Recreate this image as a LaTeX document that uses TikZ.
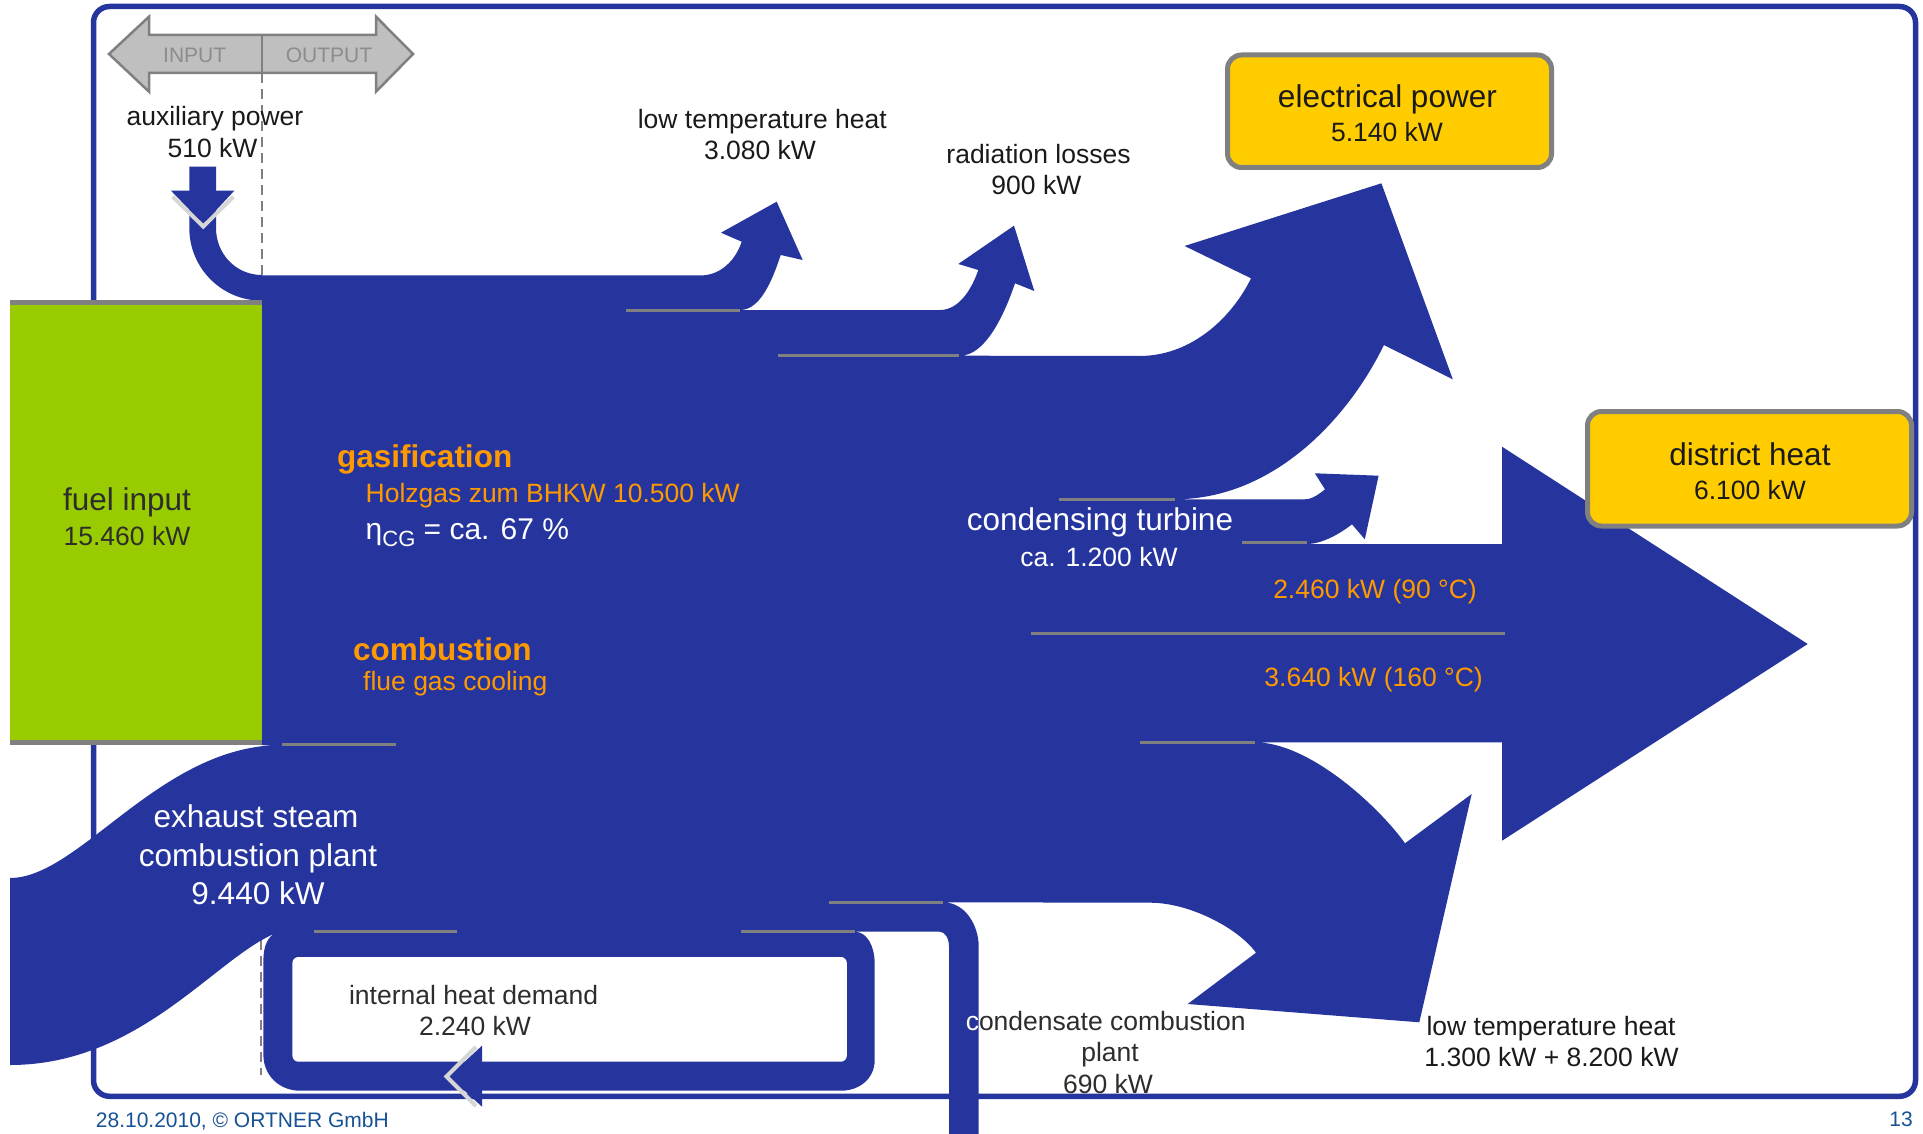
\documentclass[tikz,border=0pt]{standalone}
\usepackage{fontspec}
\setmainfont{Liberation Sans}
\definecolor{flowblue}{RGB}{38,53,158}
\definecolor{fuelgreen}{RGB}{153,204,0}
\definecolor{boxyellow}{RGB}{255,204,0}
\definecolor{sepgray}{RGB}{128,128,128}
\definecolor{iogray}{RGB}{191,191,191}
\definecolor{iotext}{RGB}{140,140,140}
\definecolor{orangetxt}{RGB}{255,153,0}
\definecolor{txt}{RGB}{26,26,26}
\definecolor{txtgray}{RGB}{45,45,45}
\definecolor{footblue}{RGB}{22,82,148}
\definecolor{chev}{RGB}{214,214,214}
\tikzset{
  flowfill/.style={fill=flowblue},
  sepline/.style={draw=sepgray, line width=3pt},
  lbl/.style={inner sep=0pt, anchor=base, text=txt, font=\fontsize{26.5}{30}\selectfont},
  biglbl/.style={lbl, font=\fontsize{31.5}{36}\selectfont},
  hdlbl/.style={lbl, anchor=base west, text=orangetxt, font=\fontsize{31.5}{36}\selectfont\bfseries},
  sublbl/.style={lbl, anchor=base west, text=orangetxt},
  outbox/.style={draw=sepgray, line width=5pt, fill=boxyellow, rounded corners=14pt},
  chevline/.style={draw=chev, line width=4pt},
  dashline/.style={draw=sepgray, line width=2.5pt, dash pattern=on 10pt off 6pt},
}
\begin{document}
\begin{tikzpicture}[x=1pt,y=-1pt]
\useasboundingbox (0,0) rectangle (1923,1134);
\fill[white] (0,0) rectangle (1923,1134);

% frame
\draw[draw=flowblue, line width=5.5pt, rounded corners=16pt] (93.5,6.5) rectangle (1915.5,1096.3);

% INPUT / OUTPUT arrow
\filldraw[fill=iogray, draw=sepgray, line width=2.5pt, line join=miter]
  (109,54) -- (149,16.7) -- (149,35) -- (376,35) -- (376,16.7) -- (413,54)
  -- (376,91.7) -- (376,73) -- (149,73) -- (149,91.7) -- cycle;
\draw[draw=sepgray, line width=2.5pt] (262,35) -- (262,73);
\node[lbl, text=iotext, font=\fontsize{21}{24}\selectfont] (tin) at (194.7,62.3) {INPUT};
\node[lbl, text=iotext, font=\fontsize{21}{24}\selectfont] (tout) at (329,62.3) {OUTPUT};

% dashed input/output border
\draw[dashline] (262,73) -- (262,275);
\draw[dashline] (261,940) -- (261,1075);

% main flow
\fill[flowfill] (262,275.5) -- (700,275.5)
  .. controls (722,275.5) and (736,258.8) .. (741.7,241.7)
  -- (721,232.7) -- (776.7,201.7) -- (802.7,260) -- (780.7,255)
  .. controls (771.9,281.6) and (760,310) .. (740,310)
  -- (940,310)
  .. controls (960,310) and (972.5,287) .. (978.3,270)
  -- (958.3,264) -- (1014,225.7) -- (1034.3,291) -- (1015,283.3)
  .. controls (1003.7,316.4) and (985,355.7) .. (960,355.7)
  -- (1139.3,356)
  .. controls (1194,356) and (1233.6,314.3) .. (1251,278.3)
  -- (1184.6,246) -- (1381.4,183.3) -- (1452.8,379.3) -- (1383.9,345)
  .. controls (1349,417) and (1274.5,499.3) .. (1174.5,499.3)
  -- (1304.6,499.3)
  .. controls (1313,499.3) and (1320.3,493) .. (1325,489.3)
  -- (1314.8,473.3) -- (1378.6,475.7) -- (1364.8,539.3) -- (1352,524.3)
  .. controls (1340.2,533.6) and (1322,544) .. (1307,544)
  -- (1502,544) -- (1502,446.7) -- (1807.7,644) -- (1502,840.7) -- (1502,742.3)
  -- (1255,742.3)
  .. controls (1310,742.3) and (1380,808) .. (1405,843.3)
  -- (1471.7,794) -- (1419.3,1022.3) -- (1187.7,1004) -- (1256,952.7)
  .. controls (1238.4,928.4) and (1190,902.7) .. (1150,902.7)
  -- (943,902.3)
  .. controls (965,902.3) and (978.7,925) .. (978.7,946.7)
  -- (978.7,1134) -- (949,1134) -- (949,946.7)
  .. controls (949,938) and (945,931.7) .. (939.4,931.7)
  -- (854.6,931.7)
  .. controls (868,931.7) and (874.7,948) .. (874.7,963)
  -- (874.7,1060)
  .. controls (874.7,1078) and (860,1090.7) .. (841,1090.7)
  -- (300,1090.7)
  .. controls (279,1090.7) and (263.4,1075) .. (263.4,1055)
  -- (263.4,960)
  .. controls (263.4,946) and (268,936) .. (276,933)
  .. controls (215,958) and (140,1065) .. (10,1065)
  -- (10,878)
  .. controls (80,878) and (160,745) .. (282,745)
  -- (262,745) -- cycle;

% auxiliary power inflow
\fill[flowfill] (189.3,166.7) -- (189.3,228)
  .. controls (189.3,268.2) and (221.8,300.7) .. (262,300.7)
  -- (262,275) .. controls (236,275) and (216,254) .. (216,228)
  -- (216,166.7) -- cycle;
\fill[flowfill] (171,190.7) -- (234.3,190.7) -- (203.3,224) -- cycle;
\draw[chevline] (172.7,196.7) -- (203.3,226.5) -- (233.3,196.7);

% fuel input block
\fill[fuelgreen] (10,305) rectangle (261.5,740);
\fill[sepgray] (10,300) rectangle (261.5,305);
\fill[sepgray] (10,740) rectangle (261.5,745);

% internal heat loop
\fill[white, rounded corners=6pt] (292.4,957) rectangle (846.8,1061.7);
\fill[flowfill] (482,1045.7) -- (482,1106.7) -- (449,1076.3) -- cycle;
\draw[chevline] (476,1047) -- (446.5,1076.5) -- (476,1106);

% separators
\draw[sepline] (626,310) -- (740,310);
\draw[sepline] (778,355.7) -- (959,355.7);
\draw[sepline] (1058.7,499.3) -- (1174.5,499.3);
\draw[sepline] (1241.8,542.7) -- (1307,542.7);
\draw[sepline] (1031.4,633.3) -- (1505,633.3);
\draw[sepline] (1140,742.3) -- (1255,742.3);
\draw[sepline] (282,744.5) -- (396,744.5);
\draw[sepline] (314,931.7) -- (457,931.7);
\draw[sepline] (741,931.7) -- (855,931.7);
\draw[sepline] (828.7,902.3) -- (943,902.3);

% output boxes
\draw[outbox] (1227.5,55) rectangle (1551.5,167.5);
\draw[outbox] (1587.5,411.5) rectangle (1911.5,526);

% labels
\node[lbl] (aux1) at (215,126) {auxiliary power};
\node[lbl] (aux2) at (212.5,158) {510 kW};
\node[biglbl, text=txtgray] (fuel1) at (127,510) {fuel input};
\node[lbl, text=txtgray] (fuel2) at (127,545) {15.460 kW};
\node[hdlbl] (gas1) at (337,467.7) {gasification};
\node[sublbl] (gas2) at (365.5,502) {Holzgas zum BHKW 10.500 kW};
\node[lbl, anchor=base west, text=white, font=\fontsize{30}{34}\selectfont] (eta) at (365.5,539)
  {η\raisebox{-7pt}{\fontsize{22}{24}\selectfont CG} = ca. 67 \%};
\node[hdlbl] (comb1) at (353,660) {combustion};
\node[sublbl] (comb2) at (363,690.7) {flue gas cooling};
\node[biglbl, text=white] (ex1) at (256,827.3) {exhaust steam};
\node[biglbl, text=white] (ex2) at (258,866.7) {combustion plant};
\node[biglbl, text=white] (ex3) at (258,904) {9.440 kW};
\node[lbl, text=txtgray] (ihd1) at (473.6,1004) {internal heat demand};
\node[lbl, text=txtgray] (ihd2) at (475,1035.7) {2.240 kW};
\node[lbl] (lt1) at (762.3,128.3) {low temperature heat};
\node[lbl] (lt2) at (760,160) {3.080 kW};
\node[lbl] (rad1) at (1038.5,163.3) {radiation losses};
\node[lbl] (rad2) at (1036.4,195) {900 kW};
\node[biglbl] (el1) at (1387.4,107.3) {electrical power};
\node[lbl] (el2) at (1387,141.7) {5.140 kW};
\node[biglbl] (dh1) at (1750,465) {district heat};
\node[lbl] (dh2) at (1750,499) {6.100 kW};
\node[biglbl, text=white] (ct1) at (1100,530) {condensing turbine};
\node[lbl, text=white] (ct2) at (1099,566.7) {ca. 1.200 kW};
\node[lbl, text=orangetxt] (dh90) at (1375,598.3) {2.460 kW (90 °C)};
\node[lbl, text=orangetxt] (dh160) at (1373.6,686.7) {3.640 kW (160 °C)};
\node[lbl, text=txtgray] (cc1) at (1105.7,1030) {condensate combustion};
\begin{scope}
  \clip (949,990) rectangle (978.7,1040);
  \node[lbl, text=white] (cc1w) at (1105.7,1030) {condensate combustion};
\end{scope}
\node[lbl, text=txtgray] (cc2) at (1110,1061.7) {plant};
\node[lbl, text=txtgray] (cc3) at (1108,1093.3) {690 kW};
\node[lbl] (ltb1) at (1551,1035) {low temperature heat};
\node[lbl] (ltb2) at (1551.5,1066.7) {1.300 kW + 8.200 kW};

% footer
\node[inner sep=0pt, anchor=base west, text=footblue, font=\fontsize{21}{24}\selectfont] (foot) at (95.7,1127.5) {28.10.2010, © ORTNER GmbH};
\node[inner sep=0pt, anchor=base east, text=footblue, font=\fontsize{21}{24}\selectfont] (pg) at (1913,1126) {13};
\end{tikzpicture}
\end{document}
